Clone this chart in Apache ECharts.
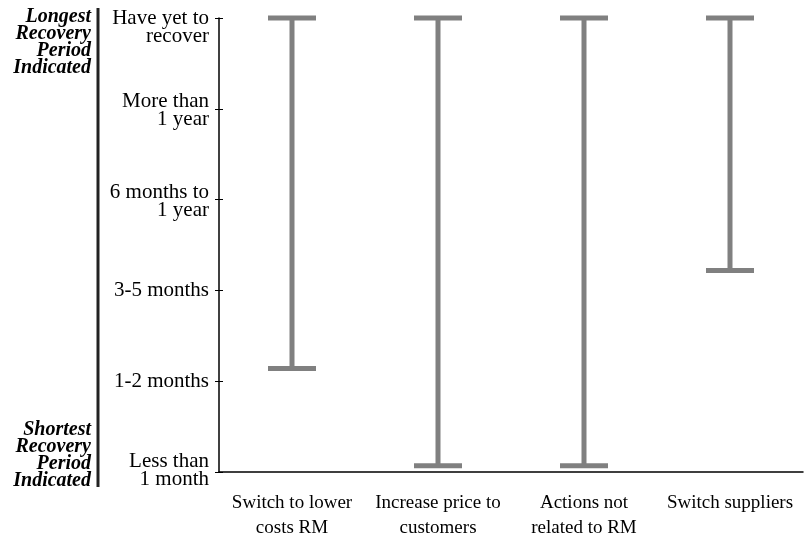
<!DOCTYPE html>
<html><head><meta charset="utf-8">
<script src="https://cdn.jsdelivr.net/npm/echarts@6/dist/echarts.min.js"></script>
<style>html,body{margin:0;padding:0;background:#fff}#c{width:808px;height:537px}</style>
</head><body><div id="c"></div>
<script>
const categories = ['Switch to lower\ncosts RM', 'Increase price to\ncustomers', 'Actions not\nrelated to RM', 'Switch suppliers'];
const lowValues = [1.14, 0.07, 0.07, 2.22];
const highValues = [5, 5, 5, 5];
const yTickLabels = ['{t|Less than}\n{t|1 month}\n{s|}', '{t|1-2 months}', '{t|3-5 months}', '{s|}\n{t|6 months to}\n{t|1 year}', '{s|}\n{t|More than}\n{t|1 year}', '{e|}\n{t|Have yet to}\n{t|recover}'];

const chart = echarts.init(document.getElementById('c'));
const serif = '"Liberation Serif", "DejaVu Serif", serif';
const data = categories.map((c, i) => [i, lowValues[i], highValues[i]]);

chart.setOption({
  backgroundColor: '#fff',
  animation: false,
  grid: { left: 219, right: 5, top: 18, bottom: 65, containLabel: false, outerBoundsMode: 'none' },
  xAxis: {
    type: 'category', data: categories, boundaryGap: true,
    axisLine: { lineStyle: { color: '#000', width: 1.5 } },
    axisTick: { length: 5, lineStyle: { color: '#000' } },
    axisLabel: { color: '#000', fontFamily: serif, fontSize: 19, lineHeight: 25, margin: 19, interval: 0 }
  },
  yAxis: [{
    type: 'value', min: 0, max: 5, interval: 1,
    splitLine: { show: false },
    axisLine: { show: true, lineStyle: { color: '#000', width: 1.5 } },
    axisTick: { show: true, length: 4, lineStyle: { color: '#000' } },
    axisLabel: {
      color: '#000', fontFamily: serif, fontSize: 21, margin: 10, align: 'right',
      formatter: v => yTickLabels[Math.round(v)],
      rich: {
        t: { fontFamily: serif, fontSize: 21, lineHeight: 18, color: '#000', align: 'right' },
        s: { fontSize: 4, lineHeight: 4 },
        e: { fontSize: 18, lineHeight: 18 }
      }
    }
  }, {
    type: 'value', min: 0, max: 5, interval: 1, position: 'left',
    splitLine: { show: false }, axisLine: { show: false },
    axisTick: { show: true, inside: true, length: 4, lineStyle: { color: '#000' } },
    axisLabel: { show: false }
  }],
  graphic: [
    { type: 'line', shape: { x1: 98, y1: 8, x2: 98, y2: 487 }, style: { stroke: '#222', lineWidth: 3 } },
    { type: 'text', x: 91, y: 8, style: { text: 'Longest\nRecovery\nPeriod\nIndicated', fill: '#000', font: 'italic bold 20px ' + serif, align: 'right', verticalAlign: 'top', lineHeight: 17 } },
    { type: 'text', x: 91, y: 421, style: { text: 'Shortest\nRecovery\nPeriod\nIndicated', fill: '#000', font: 'italic bold 20px ' + serif, align: 'right', verticalAlign: 'top', lineHeight: 17 } }
  ],
  series: [{
    type: 'custom',
    data: data,
    renderItem: function (params, api) {
      const x = api.value(0);
      const lo = api.coord([x, api.value(1)]);
      const hi = api.coord([x, api.value(2)]);
      const half = 24;
      const st = { stroke: '#808080', lineWidth: 5 };
      return {
        type: 'group',
        children: [
          { type: 'line', shape: { x1: lo[0], y1: lo[1], x2: hi[0], y2: hi[1] }, style: st },
          { type: 'line', shape: { x1: lo[0] - half, y1: lo[1], x2: lo[0] + half, y2: lo[1] }, style: st },
          { type: 'line', shape: { x1: hi[0] - half, y1: hi[1], x2: hi[0] + half, y2: hi[1] }, style: st }
        ]
      };
    }
  }]
});
</script></body></html>
